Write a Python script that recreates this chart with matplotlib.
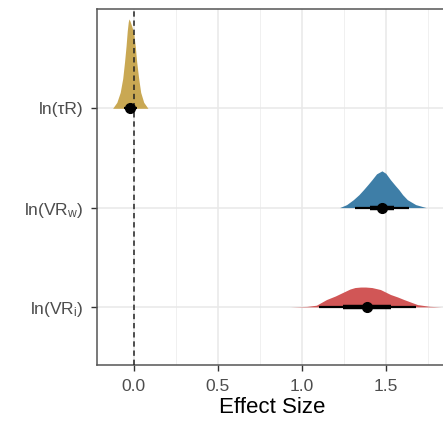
import matplotlib
matplotlib.use('Agg')
import matplotlib.pyplot as plt
from matplotlib.ticker import MultipleLocator

plt.rcParams['font.family'] = ['Liberation Sans', 'DejaVu Sans']
plt.rcParams['mathtext.default'] = 'regular'

# categories, bottom to top
labels = ['ln(VR$_{i}$)', 'ln(VR$_{w}$)', 'ln(\u03c4R)']
colors = ['#D15656', '#3E7EA7', '#C9A853']

# slab outlines: x positions and slab heights (y units)
vri_x = [0.93, 1.03, 1.087, 1.147, 1.20, 1.237, 1.287, 1.317, 1.35, 1.38,
         1.417, 1.468, 1.528, 1.57, 1.608, 1.689, 1.76, 1.83]
vri_h = [0.0, 0.005, 0.017, 0.074, 0.11, 0.14, 0.18, 0.195, 0.20, 0.20,
         0.195, 0.175, 0.125, 0.10, 0.074, 0.023, 0.006, 0.0]
vrw_x = [1.225, 1.267, 1.307, 1.34, 1.367, 1.395, 1.417, 1.445, 1.477, 1.50,
         1.528, 1.555, 1.578, 1.60, 1.628, 1.678, 1.74]
vrw_h = [0.0, 0.03, 0.08, 0.13, 0.18, 0.235, 0.28, 0.34, 0.37, 0.345,
         0.28, 0.225, 0.18, 0.13, 0.08, 0.03, 0.0]
tau_x = [-0.125, -0.10, -0.08, -0.065, -0.054, -0.045, -0.038, -0.032, -0.028,
         -0.022, -0.01, 0.0, 0.01, 0.018, 0.03, 0.042, 0.06, 0.085]
tau_h = [0.0, 0.06, 0.16, 0.30, 0.47, 0.63, 0.78, 0.87, 0.90,
         0.88, 0.82, 0.76, 0.62, 0.47, 0.30, 0.16, 0.06, 0.0]

# point estimates and intervals (66% thick, 95% thin)
point = [1.388, 1.477, -0.02]
lo66 = [1.247, 1.407, -0.04]
hi66 = [1.528, 1.548, 0.0]
lo95 = [1.105, 1.317, -0.06]
hi95 = [1.678, 1.639, 0.02]

slabs = [(vri_x, vri_h), (vrw_x, vrw_h), (tau_x, tau_h)]

fig = plt.figure(figsize=(4.43, 4.21), dpi=100)
ax = fig.add_axes([97/443, 56.5/421, 350/443, 356/421])

for i, (xs, hs) in enumerate(slabs):
    y0 = i + 1
    ax.fill_between(xs, [y0]*len(xs), [y0 + h for h in hs],
                    color=colors[i], lw=0, zorder=2)
    ax.plot([lo95[i], hi95[i]], [y0, y0], color='black', lw=1.6,
            solid_capstyle='butt', zorder=4)
    ax.plot([lo66[i], hi66[i]], [y0, y0], color='black', lw=3.2,
            solid_capstyle='butt', zorder=4)
    ax.plot(point[i], y0, 'o', color='black', ms=7, zorder=5)

ax.axvline(0, color='#222222', lw=1.1, ls=(0, (3.5, 2.5)), zorder=3)

ax.set_xlim(-0.218, 1.864)
ax.set_ylim(0.42, 4.005)
ax.set_yticks([1, 2, 3])
ax.set_yticklabels(labels)
ax.xaxis.set_major_locator(MultipleLocator(0.5))
ax.xaxis.set_minor_locator(MultipleLocator(0.25))
ax.set_xticks([0.0, 0.5, 1.0, 1.5])
ax.set_xticklabels(['0.0', '0.5', '1.0', '1.5'])

ax.grid(which='major', color='#E8E8E8', lw=1.1, zorder=0)
ax.grid(which='minor', axis='x', color='#F0F0F0', lw=0.7, zorder=0)
ax.set_axisbelow(True)

ax.tick_params(axis='both', which='major', length=4.5, width=1, color='#333333',
               labelcolor='#4D4D4D', labelsize=12.5)
ax.tick_params(axis='x', which='major', pad=6)
ax.tick_params(axis='y', which='major', pad=5)
ax.tick_params(axis='x', which='minor', length=0)
for s in ['top', 'left', 'bottom']:
    ax.spines[s].set_color('#555555')
    ax.spines[s].set_linewidth(1.1)
ax.spines['right'].set_visible(False)

ax.set_xlabel('Effect Size', fontsize=16, color='black', labelpad=2)

plt.savefig('out.png', dpi=100)
